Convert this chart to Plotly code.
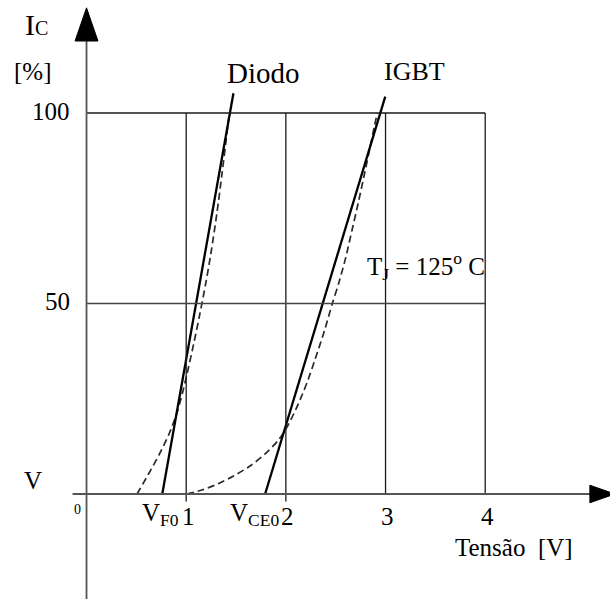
import plotly.graph_objects as go

# ---------------- data ----------------
x_ticks = [1, 2, 3, 4]
x_tick_labels = ["1", "2", "3", "4"]
y_ticks = [50, 100]
y_tick_labels = ["50", "100"]

# Diode: linear approximation (solid) and real characteristic (dashed)
diode_lin_v = [0.76, 1.474]
diode_lin_i = [0.0, 105.2]
diode_real_v = [0.507, 0.622, 0.732, 0.828, 0.903, 0.960, 1.008, 1.075, 1.137,
                1.195, 1.247, 1.307, 1.359, 1.408, 1.433]
diode_real_i = [0.0, 5.25, 10.50, 15.75, 21.00, 26.25, 31.50, 39.37, 47.24,
                55.12, 62.99, 73.49, 83.99, 94.49, 100.0]

# IGBT: linear approximation (solid) and real characteristic (dashed)
igbt_lin_v = [1.792, 2.997]
igbt_lin_i = [0.0, 104.3]
igbt_real_v = [1.005, 1.159, 1.314, 1.475, 1.640, 1.791, 1.926, 2.017, 2.097,
               2.167, 2.222, 2.291, 2.389, 2.468, 2.531, 2.602, 2.664, 2.726,
               2.782, 2.833, 2.887, 2.917]
igbt_real_i = [0.0, 1.05, 2.62, 4.72, 7.35, 10.50, 14.17, 17.85, 22.05,
               26.25, 29.92, 35.17, 43.04, 50.13, 55.38, 62.20, 69.29, 76.38,
               83.20, 89.50, 96.33, 100.0]

# ---------------- figure ----------------
FONT = "Liberation Serif, Times New Roman, serif"
X_RANGE = [-0.868, 5.252]
Y_RANGE = [-27.56, 129.66]

fig = go.Figure()

# grid / frame lines
shapes = []
for xv in x_ticks:
    y_bottom = -2.0 if xv <= 2 else 0
    shapes.append(dict(type="line", xref="x", yref="y", x0=xv, x1=xv,
                       y0=y_bottom, y1=max(y_ticks),
                       line=dict(color="#1a1a1a", width=1.3)))
for yv in y_ticks:
    shapes.append(dict(type="line", xref="x", yref="y", x0=0, x1=max(x_ticks),
                       y0=yv, y1=yv,
                       line=dict(color="#1a1a1a" if yv == 100 else "#444", width=1.3)))
# axes
shapes.append(dict(type="line", xref="x", yref="y", x0=0, x1=0, y0=Y_RANGE[0], y1=119,
                   line=dict(color="#555", width=1.8)))
shapes.append(dict(type="line", xref="x", yref="y", x0=-0.14, x1=5.06, y0=0, y1=0,
                   line=dict(color="#555", width=1.8)))
# arrow heads
shapes.append(dict(type="path", xref="x", yref="y",
                   path="M -0.115 118.9 L 0.115 118.9 L 0.0 127.6 Z",
                   fillcolor="black", line=dict(color="black", width=1)))
shapes.append(dict(type="path", xref="x", yref="y",
                   path="M 5.05 2.3 L 5.05 -2.3 L 5.30 0 Z",
                   fillcolor="black", line=dict(color="black", width=1)))
fig.update_layout(shapes=shapes)

# curves
dash_line = dict(color="#2a2a2a", width=1.7, dash="7px,4px", shape="spline", smoothing=0.8)
fig.add_trace(go.Scatter(x=diode_real_v, y=diode_real_i, mode="lines", line=dash_line,
                         hoverinfo="skip", showlegend=False))
fig.add_trace(go.Scatter(x=igbt_real_v, y=igbt_real_i, mode="lines", line=dash_line,
                         hoverinfo="skip", showlegend=False))
fig.add_trace(go.Scatter(x=diode_lin_v, y=diode_lin_i, mode="lines",
                         line=dict(color="black", width=2.3),
                         hoverinfo="skip", showlegend=False))
fig.add_trace(go.Scatter(x=igbt_lin_v, y=igbt_lin_i, mode="lines",
                         line=dict(color="black", width=2.3),
                         hoverinfo="skip", showlegend=False))

ann = []
for xv, lab in zip(x_ticks, x_tick_labels):
    ann.append(dict(x=xv, y=0, xref="x", yref="y", text=lab, showarrow=False,
                    xanchor="center", yanchor="middle", xshift=2, yshift=-22,
                    font=dict(family=FONT, size=25, color="black")))
for yv, lab in zip(y_ticks, y_tick_labels):
    ann.append(dict(x=0, y=yv, xref="x", yref="y", text=lab, showarrow=False,
                    xanchor="right", yanchor="middle", xshift=-15, yshift=2,
                    font=dict(family=FONT, size=25, color="black")))

def txt(x, y, text, size=25, xanchor="center", yanchor="middle"):
    ann.append(dict(x=x, y=y, xref="x", yref="y", text=text, showarrow=False,
                    xanchor=xanchor, yanchor=yanchor,
                    font=dict(family=FONT, size=size, color="black")))

txt(-0.50, 123.3, "I<span style='font-size:20px'>C</span>", size=30)
txt(-0.537, 111.0, "[%]")
txt(-0.537, 3.67, "V")
txt(-0.09, -3.94, "0", size=14)
txt(0.948, -5.25, "V<sub>F0</sub>", xanchor="right")
txt(1.951, -5.25, "V<sub>CE0</sub>", xanchor="right")
txt(4.289, -14.17, "Tensão\u00a0 [V]")
txt(1.771, 110.5, "Diodo", size=29)
txt(3.286, 110.8, "IGBT", size=26)
txt(2.794, 59.8, "T<sub>J</sub> = 125<sup>o</sup> C", xanchor="left")

fig.update_layout(
    annotations=ann,
    width=610, height=599,
    margin=dict(l=0, r=0, t=0, b=0),
    paper_bgcolor="white", plot_bgcolor="white",
    xaxis=dict(range=X_RANGE, visible=False, fixedrange=True),
    yaxis=dict(range=Y_RANGE, visible=False, fixedrange=True),
    showlegend=False,
)

fig.write_html("out.html")
